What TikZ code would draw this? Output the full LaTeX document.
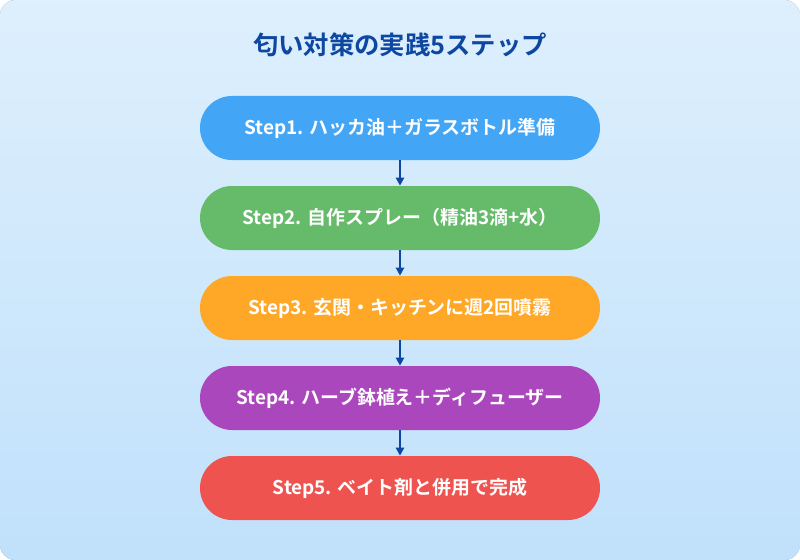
\documentclass[tikz,border=0pt]{standalone}
\usepackage{fontspec}
\setmainfont{Noto Sans CJK JP}[BoldFont={Noto Sans CJK JP Bold}]
\usetikzlibrary{arrows.meta}
\definecolor{bgA}{HTML}{E3F2FD}
\definecolor{bgB}{HTML}{BBDEFB}
\definecolor{ttl}{HTML}{0D47A1}
\definecolor{c1}{HTML}{42A5F5}
\definecolor{c2}{HTML}{66BB6A}
\definecolor{c3}{HTML}{FFA726}
\definecolor{c4}{HTML}{AB47BC}
\definecolor{c5}{HTML}{EF5350}
\begin{document}
\begin{tikzpicture}[x=0.75pt,y=-0.75pt,
  stepbox/.style={rounded corners=24pt,minimum width=300pt,minimum height=48pt,text=white,font=\bfseries\fontsize{14.2}{16}\selectfont,inner sep=0pt},
  conn/.style={draw=ttl,line width=1.5pt,-{Triangle[length=6pt,width=6pt]}}]
\useasboundingbox (0,0) rectangle (800,560);
\fill[rounded corners=12pt,left color=bgA,right color=bgB,shading angle=-45] (0,0) rectangle (800,560);
\begin{scope}
\clip[rounded corners=12pt] (0,0) rectangle (800,560);
\shade[shading=axis,shading angle=-35,top color=bgA,bottom color=bgB] (-100,-100) rectangle (900,660);
\end{scope}
\node[font=\bfseries\fontsize{19}{22}\selectfont,text=ttl] (t) at (400,45) {匂い対策の実践5ステップ};
\node[stepbox,fill=c1] (s1) at (400,128) {Step1. ハッカ油＋ガラスボトル準備};
\node[stepbox,fill=c2] (s2) at (400,218) {Step2. 自作スプレー（精油3滴+水）};
\node[stepbox,fill=c3] (s3) at (400,308) {Step3. 玄関・キッチンに週2回噴霧};
\node[stepbox,fill=c4] (s4) at (400,398) {Step4. ハーブ鉢植え＋ディフューザー};
\node[stepbox,fill=c5] (s5) at (400,488) {Step5. ベイト剤と併用で完成};
\draw[conn] (s1) -- (s2);
\draw[conn] (s2) -- (s3);
\draw[conn] (s3) -- (s4);
\draw[conn] (s4) -- (s5);
\end{tikzpicture}
\end{document}
